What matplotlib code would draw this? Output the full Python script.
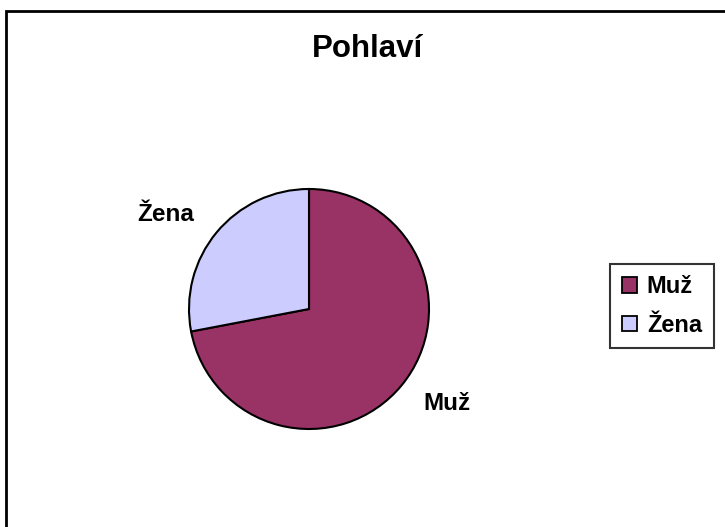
import matplotlib.pyplot as plt
from matplotlib.patches import Rectangle

plt.rcParams['font.family'] = ['Liberation Sans', 'DejaVu Sans']

labels = ["Muž", "Žena"]
values = [72, 28]
colors = ["#993366", "#CCCCFF"]

W, H = 725, 527
fig = plt.figure(figsize=(W / 100, H / 100), dpi=100)

# outer chart frame (cut off at the right and bottom)
fig.add_artist(Rectangle((6 / W, -0.05), 1.1, (H - 11) / H + 0.05, transform=fig.transFigure,
                         fill=False, edgecolor="black", linewidth=2))

cx, cy, r = 309, 309, 120
ax = fig.add_axes([(cx - r) / W, (H - cy - r) / H, 2 * r / W, 2 * r / H])
wedges, texts = ax.pie(values, colors=colors, startangle=90, counterclock=False,
                       radius=1, labels=labels, labeldistance=1.24,
                       wedgeprops=dict(edgecolor="black", linewidth=1.5),
                       textprops=dict(fontsize=17.5, fontweight="bold"))
ax.set_xlim(-1, 1)
ax.set_ylim(-1, 1)

fig.text(368 / W, 1 - 49 / H, "Pohlaví", ha="center", va="center", fontsize=22.5, fontweight="bold")

leg = fig.legend(wedges, labels, loc="center", bbox_to_anchor=(662 / W, 1 - 306 / H),
                 prop=dict(size=17, weight="bold"), frameon=True, fancybox=False,
                 edgecolor="black", handlelength=0.65, handleheight=0.65, handletextpad=0.4,
                 borderpad=0.5, labelspacing=0.65, borderaxespad=0)
leg.get_frame().set_linewidth(1.5)
for h in leg.legend_handles:
    h.set_linewidth(1.3)

fig.savefig("out.png", dpi=100)
